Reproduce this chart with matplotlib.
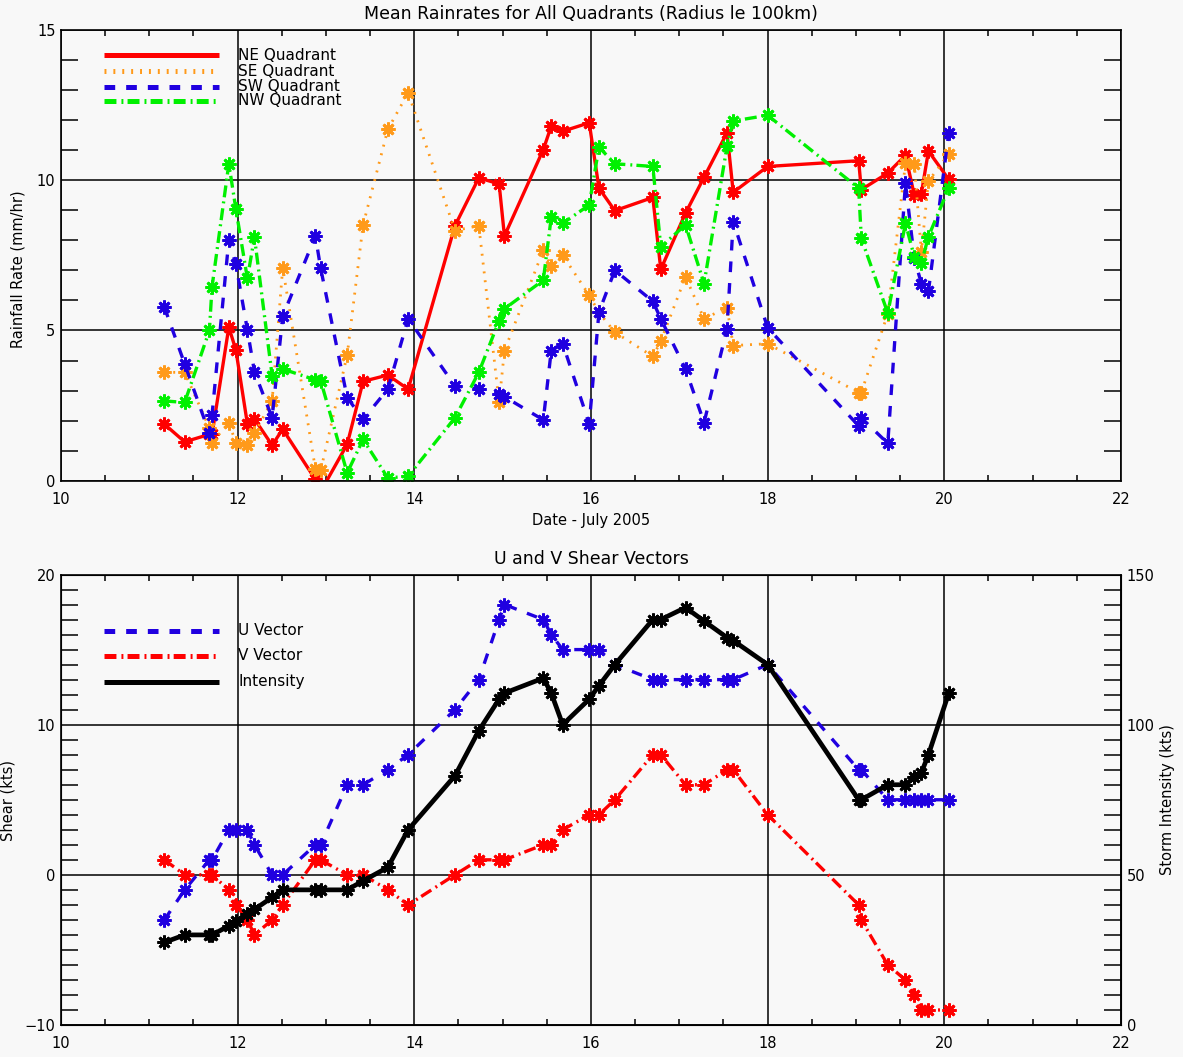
import matplotlib
matplotlib.use('Agg')
import matplotlib.pyplot as plt
from matplotlib.ticker import MultipleLocator

# ---------------- data ----------------
days = [11.17, 11.40, 11.68, 11.71, 11.90, 11.98, 12.11, 12.19, 12.39, 12.51,
        12.88, 12.94, 13.24, 13.42, 13.70, 13.93, 14.46, 14.73, 14.96, 15.02,
        15.46, 15.55, 15.68, 15.98, 16.09, 16.27, 16.70, 16.79, 17.07, 17.28,
        17.54, 17.61, 18.00, 19.03, 19.06, 19.36, 19.56, 19.66, 19.74, 19.82,
        20.05]

ne_rain = [1.89, 1.30, 1.55, 1.55, 5.11, 4.35, 1.90, 2.06, 1.19, 1.72,
           0.05, -0.35, 1.22, 3.31, 3.52, 3.05, 8.48, 10.07, 9.87, 8.14,
           11.01, 11.79, 11.62, 11.90, 9.73, 8.98, 9.42, 7.03, 8.90, 10.09,
           11.57, 9.59, 10.45, 10.64, 9.68, 10.23, 10.82, 9.50, 9.55, 10.96,
           10.02]
se_rain = [3.61, 3.61, 1.76, 1.27, 1.94, 1.27, 1.19, 1.58, 2.66, 7.09,
           0.40, 0.35, 4.19, 8.51, 11.68, 12.90, 8.32, 8.48, 2.61, 4.33,
           7.67, 7.15, 7.50, 6.17, 5.60, 4.94, 4.14, 4.64, 6.78, 5.39,
           5.76, 4.50, 4.56, 2.94, 2.94, 5.56, 10.55, 10.52, 7.60, 9.96,
           10.86]
sw_rain = [5.78, 3.89, 1.58, 2.20, 8.01, 7.20, 5.02, 3.63, 2.10, 5.47,
           8.14, 7.06, 2.77, 2.05, 3.05, 5.39, 3.16, 3.05, 2.88, 2.80,
           2.03, 4.33, 4.56, 1.90, 5.61, 7.00, 5.97, 5.39, 3.72, 1.94,
           5.06, 8.62, 5.09, 1.83, 2.10, 1.25, 9.90, 7.40, 6.56, 6.30,
           11.57]
nw_rain = [2.66, 2.61, 5.00, 6.45, 10.54, 9.03, 6.73, 8.10, 3.50, 3.72,
           3.36, 3.33, 0.27, 1.38, 0.10, 0.16, 2.10, 3.61, 5.33, 5.72,
           6.67, 8.76, 8.56, 9.17, 11.09, 10.54, 10.45, 7.78, 8.51, 6.56,
           11.12, 11.96, 12.15, 9.73, 8.06, 5.58, 8.56, 7.45, 7.23, 8.12,
           9.73]

u_shear = [-3, -1, 1, 1, 3, 3, 3, 2, 0, 0,
           2, 2, 6, 6, 7, 8, 11, 13, 17, 18,
           17, 16, 15, 15, 15, 14, 13, 13, 13, 13,
           13, 13, 14, 7, 7, 5, 5, 5, 5, 5,
           5]
v_shear = [1, 0, 0, 0, -1, -2, -3, -4, -3, -2,
           1, 1, 0, 0, -1, -2, 0, 1, 1, 1,
           2, 2, 3, 4, 4, 5, 8, 8, 6, 6,
           7, 7, 4, -2, -3, -6, -7, -8, -9, -9,
           -9]
intensity = [27.5, 30, 30, 30, 33, 34.5, 37, 38.5, 42.5, 45,
             45, 45, 45, 48, 52.5, 65, 83, 98, 108.5, 110.5,
             115.5, 110.5, 100, 108.5, 113, 120, 135, 135, 139, 134.5,
             129, 128, 120, 75, 75, 80, 80, 82.5, 84, 90,
             110.5]

quad_labels = ['NE Quadrant', 'SE Quadrant', 'SW Quadrant', 'NW Quadrant']
shear_labels = ['U Vector', 'V Vector', 'Intensity']
x_ticks = [10, 12, 14, 16, 18, 20, 22]

# ---------------- style ----------------
plt.rcParams['lines.scale_dashes'] = False
plt.rcParams['font.family'] = ['DejaVu Sans']

BG = '#f8f8f8'
RED = '#ff0000'
ORANGE = '#ff9a1a'
BLUE = '#2000e0'
GREEN = '#00f000'
BLACK = '#000000'
DOT = (0, (1.4, 5.0))
DASH = (0, (7.7, 7.9))
DASHDOT = (0, (8.6, 3.6, 1.4, 3.0))
SOLID = '-'
MK = dict(marker=(8, 2, 0), markersize=10, markeredgewidth=2.0)
FS = 10.5

fig = plt.figure(figsize=(11.83, 10.57), dpi=100, facecolor=BG)
ax1 = fig.add_axes([0.05156, 0.54494, 0.89603, 0.42715], facecolor=BG)
ax2 = fig.add_axes([0.05156, 0.03027, 0.89603, 0.42621], facecolor=BG)


def style_axis(ax, ymajor, yminor, right_ticks=True):
    ax.set_xlim(10, 22)
    ax.set_xticks(x_ticks)
    ax.xaxis.set_minor_locator(MultipleLocator(0.5))
    ax.yaxis.set_major_locator(MultipleLocator(ymajor))
    ax.yaxis.set_minor_locator(MultipleLocator(yminor))
    ax.grid(True, which='major', color='black', lw=1.1)
    ax.tick_params(which='major', length=0, labelsize=FS)
    ax.tick_params(axis='x', which='major', pad=8)
    ax.tick_params(axis='y', which='major', pad=4)
    ax.tick_params(axis='x', which='minor', direction='in', length=4.3,
                   width=1.1, top=True, bottom=True)
    ax.tick_params(axis='y', which='minor', direction='in', length=12,
                   width=1.1, left=True, right=right_ticks)
    for s in ax.spines.values():
        s.set_linewidth(1.2)


# ---------------- top panel ----------------
style_axis(ax1, 5, 1, right_ticks=True)
ax1.set_ylim(0, 15)
quad_series = [(ne_rain, RED, SOLID, 2.4), (se_rain, ORANGE, DOT, 2.0),
               (sw_rain, BLUE, DASH, 2.4), (nw_rain, GREEN, DASHDOT, 2.4)]
for vals, col, ls, lw in quad_series:
    ax1.plot(days, vals, color=col, ls=ls, lw=lw, **MK)

leg_y1 = [0.9429, 0.908, 0.8733, 0.8423]
for (vals, col, ls, lw), lab, yy in zip(quad_series, quad_labels, leg_y1):
    ax1.plot([0.0406, 0.149], [yy, yy], transform=ax1.transAxes, color=col,
             ls=ls, lw=3.6, solid_capstyle='butt', dash_capstyle='butt')
    ax1.text(0.167, yy, lab, transform=ax1.transAxes, fontsize=11,
             va='center', ha='left')

# ---------------- bottom panel ----------------
style_axis(ax2, 10, 1, right_ticks=False)
ax2.set_ylim(-10, 20)
ax3 = ax2.twinx()
ax3.set_ylim(0, 150)
ax3.yaxis.set_major_locator(MultipleLocator(50))
ax3.yaxis.set_minor_locator(MultipleLocator(5))
ax3.tick_params(which='major', length=0, labelsize=FS, pad=4)
ax3.tick_params(which='minor', direction='in', length=12, width=1.1)
ax3.patch.set_visible(False)

shear_series = [(ax2, u_shear, BLUE, DASH, 2.4), (ax2, v_shear, RED, DASHDOT, 2.4),
                (ax3, intensity, BLACK, SOLID, 3.4)]
for axx, vals, col, ls, lw in shear_series:
    axx.plot(days, vals, color=col, ls=ls, lw=lw, **MK)

leg_y2 = [0.8752, 0.8197, 0.762]
for (axx, vals, col, ls, lw), lab, yy in zip(shear_series, shear_labels, leg_y2):
    ax2.plot([0.0406, 0.149], [yy, yy], transform=ax2.transAxes, color=col,
             ls=ls, lw=3.6, solid_capstyle='butt', dash_capstyle='butt')
    ax2.text(0.167, yy, lab, transform=ax2.transAxes, fontsize=11,
             va='center', ha='left')

# ---------------- labels ----------------
fig.text(0.4996, 0.9868, 'Mean Rainrates for All Quadrants (Radius le 100km)',
         ha='center', va='center', fontsize=12.5)
fig.text(0.4996, 0.508, 'Date - July 2005', ha='center', va='center', fontsize=FS)
fig.text(0.0152, 0.745, 'Rainfall Rate (mm/hr)', rotation=90,
         ha='center', va='center', fontsize=FS)
fig.text(0.4996, 0.4711, 'U and V Shear Vectors', ha='center', va='center',
         fontsize=12.5)
fig.text(0.0068, 0.2431, 'Shear (kts)', rotation=90, ha='center', va='center',
         fontsize=FS)
fig.text(0.9873, 0.2431, 'Storm Intensity (kts)', rotation=90, ha='center',
         va='center', fontsize=FS)

fig.savefig('out.png', dpi=100, facecolor=BG)
